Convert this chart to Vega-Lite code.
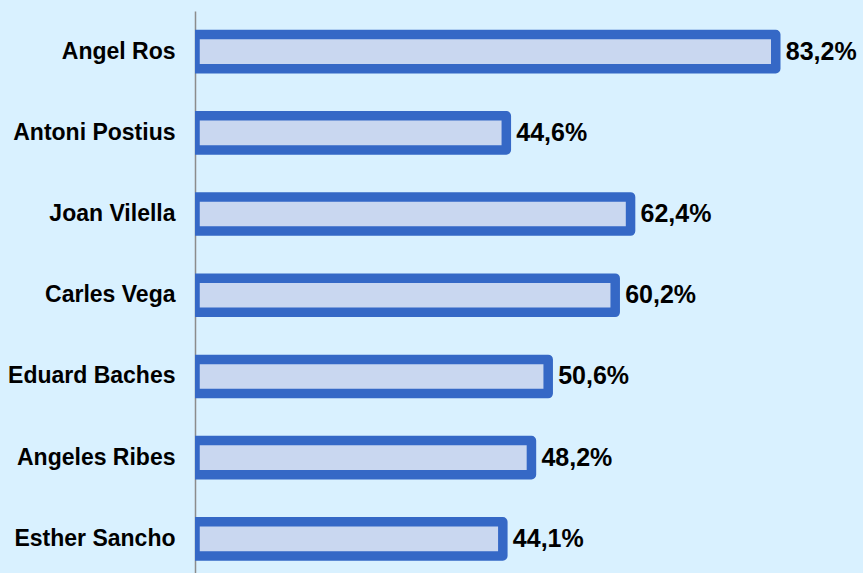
{
  "$schema": "https://vega.github.io/schema/vega-lite/v6.json",
  "width": 668,
  "height": 562,
  "autosize": {"type": "none"},
  "padding": {"left": 195, "top": 11, "right": 0, "bottom": 0},
  "background": "#D9F1FF",
  "config": {
    "view": {"stroke": null},
    "locale": {"number": {"decimal": ",", "thousands": ".", "grouping": [3], "currency": ["", " €"]}}
  },
  "data": {
    "values": [
      {"name": "Angel Ros", "value": 0.832},
      {"name": "Antoni Postius", "value": 0.446},
      {"name": "Joan Vilella", "value": 0.624},
      {"name": "Carles Vega", "value": 0.602},
      {"name": "Eduard Baches", "value": 0.506},
      {"name": "Angeles Ribes", "value": 0.482},
      {"name": "Esther Sancho", "value": 0.441}
    ]
  },
  "encoding": {
    "y": {
      "field": "name",
      "type": "nominal",
      "sort": null,
      "scale": {"paddingInner": 0.58, "paddingOuter": 0.25, "align": 0.58},
      "axis": {
        "title": null,
        "ticks": false,
        "domainColor": "#8c8c8c",
        "domainWidth": 1.5,
        "labelFont": "Liberation Sans",
        "labelFontWeight": "bold",
        "labelFontSize": 23,
        "labelColor": "#000000",
        "labelPadding": 20,
        "labelLimit": 0
      }
    },
    "x": {
      "field": "value",
      "type": "quantitative",
      "scale": {"domain": [0, 0.957], "nice": false},
      "axis": null
    }
  },
  "layer": [
    {
      "mark": {
        "type": "bar",
        "fill": "#C9D7F0",
        "stroke": "#3568C6",
        "strokeWidth": 9.5,
        "strokeJoin": "round",
        "clip": true
      }
    },
    {
      "mark": {
        "type": "text",
        "align": "left",
        "baseline": "middle",
        "dx": 10,
        "font": "Liberation Sans",
        "fontWeight": "bold",
        "fontSize": 25,
        "color": "#000000"
      },
      "encoding": {"text": {"field": "value", "type": "quantitative", "format": ".1%"}}
    }
  ]
}
